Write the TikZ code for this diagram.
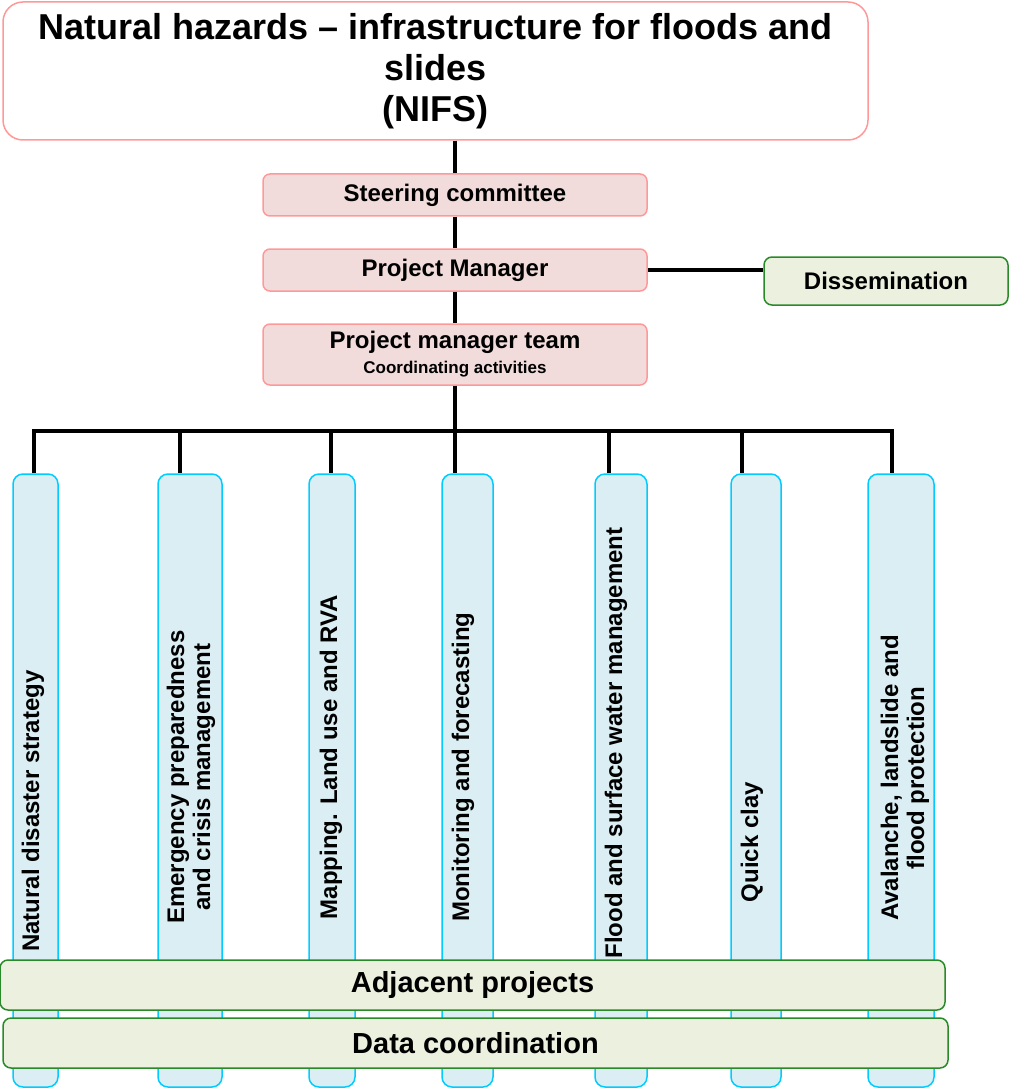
\documentclass[tikz,border=0pt]{standalone}
\usepackage{fontspec}
\setmainfont{Liberation Sans}
\usetikzlibrary{calc,positioning}
\definecolor{pinkline}{HTML}{FF9999}
\definecolor{pinkfill}{HTML}{F2DCDB}
\definecolor{greenline}{HTML}{2A8A2A}
\definecolor{greenfill}{HTML}{EBF1DE}
\definecolor{cyanline}{HTML}{00CCFF}
\definecolor{cyanfill}{HTML}{DAEEF3}
\newcommand{\fs}[2]{\fontsize{#1}{#2}\selectfont}

\begin{document}
\begin{tikzpicture}[x=1pt,y=-1pt,font=\bfseries,
  top/.style={draw=pinkline,line width=1.5pt,rounded corners=20pt,fill=white,
    inner sep=0pt,minimum width=865pt,minimum height=138pt,align=center,font=\bfseries\fs{36}{41}},
  mgmt/.style={draw=pinkline,line width=1.5pt,rounded corners=7pt,fill=pinkfill,
    inner sep=0pt,minimum width=384pt,minimum height=42pt,align=center,font=\bfseries\fs{24}{28}},
  side/.style={draw=greenline,line width=1.5pt,rounded corners=8pt,fill=greenfill,
    inner sep=0pt,align=center},
  pillar/.style={draw=cyanline,line width=1.5pt,rounded corners=10pt,fill=cyanfill,
    inner sep=0pt,minimum height=613pt},
  lbl/.style={rotate=90,align=center,inner sep=0pt,font=\bfseries\fs{24}{26}},
  link/.style={line width=4.5pt}]
  \useasboundingbox (0,0) rectangle (1010,1091);
  % top of the organisation
  \node[top] (title) at (435.5,71) {Natural hazards – infrastructure for floods and\\slides\\(NIFS)};
  \node[mgmt] (sc) at (455,195) {Steering committee};
  \node[mgmt] (pm) at (455,270) {Project Manager};
  \node[mgmt,minimum height=61pt] (pmt) at (455,354.5) {Project manager team\\[-3pt]{\fs{17}{20}Coordinating activities}};
  \node[side,minimum width=244pt,minimum height=48pt,font=\bfseries\fs{24}{28}] (diss) at (886,281) {Dissemination};
  \draw[link] (sc.north |- title.south) -- (sc.north);
  \draw[link] (sc) -- (pm); \draw[link] (pm) -- (pmt);
  \draw[link] (pm.east) -- (pm.east -| diss.west);
  % work packages
  \node[pillar,minimum width=45pt] (c1) at (35.5,780.5) {};
  \node[pillar,minimum width=64pt] (c2) at (190,780.5) {};
  \node[pillar,minimum width=46pt] (c3) at (332,780.5) {};
  \node[pillar,minimum width=51pt] (c4) at (467.5,780.5) {};
  \node[pillar,minimum width=52pt] (c5) at (621,780.5) {};
  \node[pillar,minimum width=50pt] (c6) at (756,780.5) {};
  \node[pillar,minimum width=66pt] (c7) at (901,780.5) {};
  \node[lbl] (l1) at (33,811) {Natural disaster strategy};
  \node[lbl] (l2) at (191,777) {Emergency preparedness\\and crisis management};
  \node[lbl] (l3) at (331,757) {Mapping. Land use and RVA};
  \node[lbl] (l4) at (463,767) {Monitoring and forecasting};
  \node[lbl] (l5) at (616,743) {Flood and surface water management};
  \node[lbl] (l6) at (752,842) {Quick clay};
  \node[lbl] (l7) at (905,778) {Avalanche, landslide and\\flood protection};
  % bus to the work packages
  \coordinate (d1) at (34,431); \coordinate (d2) at (180,431);
  \coordinate (d3) at (331,431); \coordinate (d4) at (455,431);
  \coordinate (d5) at (609,431); \coordinate (d6) at (742,431);
  \coordinate (d7) at (892,431);
  \draw[link] (pmt) -- (d4);
  \draw[link] (d1 |- c1.north) -- (d1) -- (d7) -- (d7 |- c7.north);
  \draw[link] (d2) -- (d2 |- c2.north); \draw[link] (d3) -- (d3 |- c3.north);
  \draw[link] (d4) -- (d4 |- c4.north); \draw[link] (d5) -- (d5 |- c5.north);
  \draw[link] (d6) -- (d6 |- c6.north);
  % common bands
  \node[side,minimum width=945pt,minimum height=50pt,font=\bfseries\fs{29}{34}] (adj) at (472.5,985) {Adjacent projects};
  \node[side,minimum width=945pt,minimum height=50pt,font=\bfseries\fs{29}{34}] (data) at (475.5,1043) {Data coordination};
\end{tikzpicture}
\end{document}
